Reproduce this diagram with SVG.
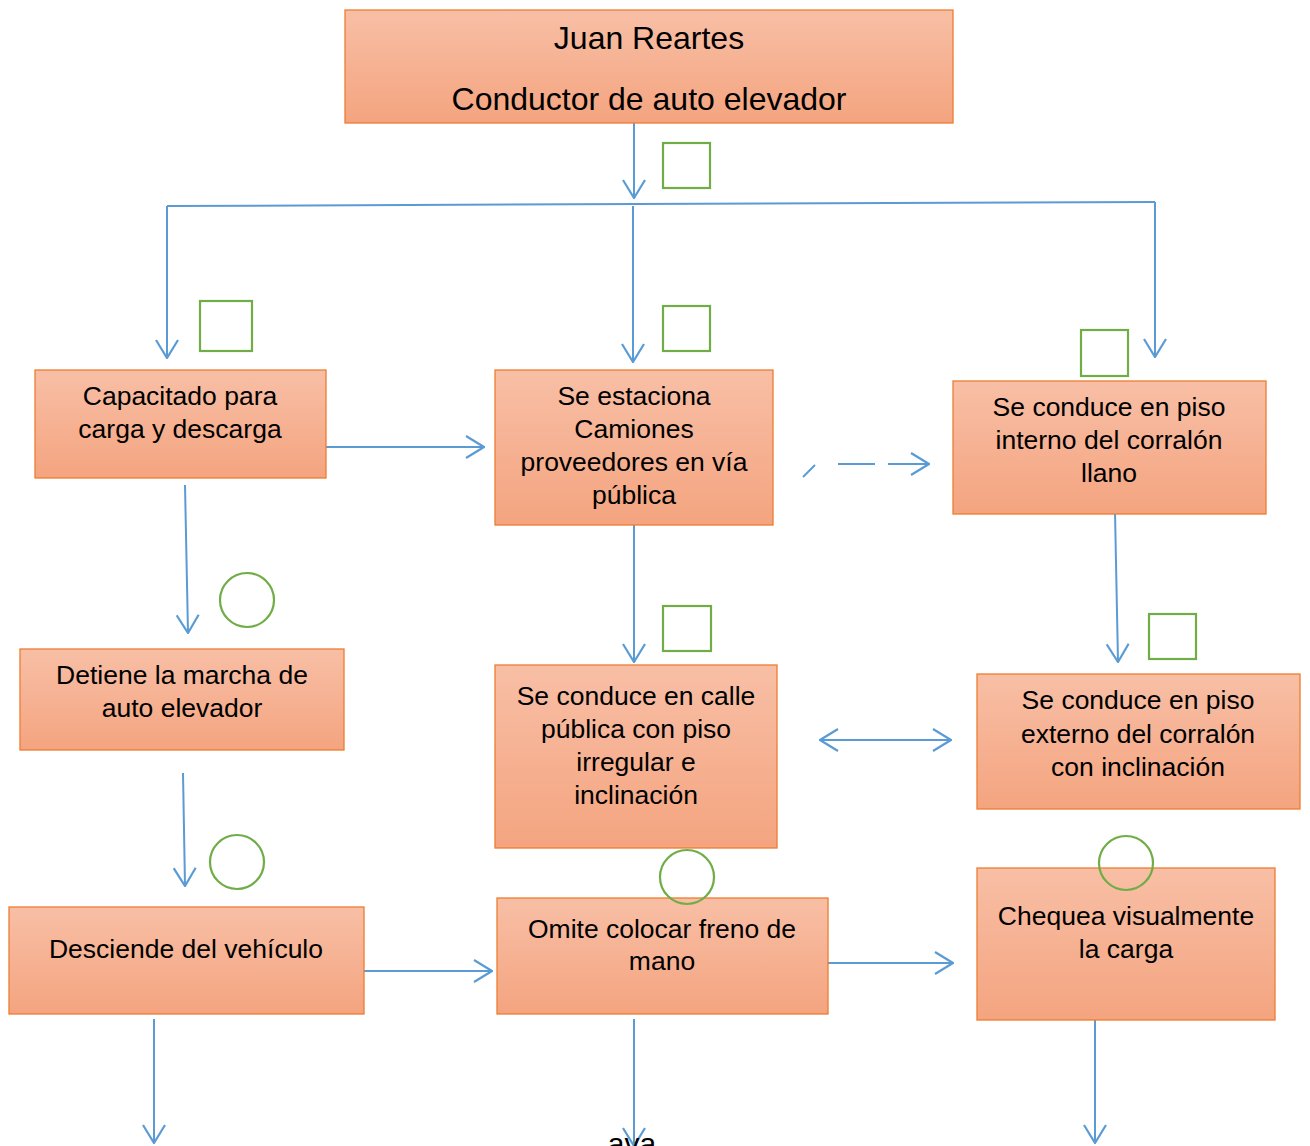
<svg xmlns="http://www.w3.org/2000/svg" width="1310" height="1146" viewBox="0 0 1310 1146">
<defs>
<linearGradient id="g" x1="0" y1="0" x2="0" y2="1">
<stop offset="0" stop-color="#f8bfa6"/>
<stop offset="1" stop-color="#f4a47f"/>
</linearGradient>
<marker id="ah" viewBox="0 0 20 24" refX="19" refY="12" markerWidth="20" markerHeight="24" markerUnits="userSpaceOnUse" orient="auto-start-reverse">
<path d="M1,1 L19,12 L1,23" fill="none" stroke="#5b9bd5" stroke-width="2.2"/>
</marker>
<style>
.box{fill:url(#g);stroke:#ed7d31;stroke-width:1.3}
.t{font-family:"Liberation Sans",Arial,sans-serif;font-size:26.5px;fill:#000;text-anchor:middle}
.t2{font-family:"Liberation Sans",Arial,sans-serif;font-size:32px;fill:#000;text-anchor:middle}
.sq{fill:none;stroke:#70ad47;stroke-width:2.2}
.c{fill:none;stroke:#5b9bd5;stroke-width:2}
.a{fill:none;stroke:#5b9bd5;stroke-width:2;marker-end:url(#ah)}
</style>
</defs>
<g id="connectors">
<path class="a" d="M634,123 L634,198"/>
<path class="c" d="M167,206 L1155,202"/>
<path class="a" d="M167,206 L167,358"/>
<path class="a" d="M633,206 L633,362"/>
<path class="a" d="M1155,202 L1155,357"/>
<path class="a" d="M326,447 L484,447"/>
<path class="c" d="M803,477 L815,465" stroke-width="1.5"/>
<path class="c" d="M838,464 L875,464" stroke-width="1.5"/>
<path class="a" d="M888,464 L929,464" stroke-width="2.5"/>
<path class="a" d="M185,485 L188,633"/>
<path class="a" d="M634,525 L634,662"/>
<path class="a" d="M1115,512 L1118,662"/>
<path class="a" d="M820,740 L951,740" style="marker-start:url(#ah)"/>
<path class="a" d="M183,773 L185,886"/>
<path class="a" d="M364,971 L492,971"/>
<path class="a" d="M828,963 L953,963"/>
<path class="a" d="M154,1019 L154,1143"/>
<path class="a" d="M634,1019 L634,1146"/>
<path class="a" d="M1095,1020 L1095,1143"/>
</g>
<g id="marks">
<rect class="sq" x="663" y="143" width="47" height="45"/>
<rect class="sq" x="200" y="301" width="52" height="50"/>
<rect class="sq" x="663" y="306" width="47" height="45"/>
<rect class="sq" x="1081" y="330" width="47" height="46"/>
<rect class="sq" x="663" y="606" width="48" height="45"/>
<rect class="sq" x="1149" y="614" width="47" height="45"/>
<circle class="sq" cx="247" cy="600" r="27"/>
<circle class="sq" cx="237" cy="862" r="27"/>
</g>
<g id="n1">
<rect class="box" x="345" y="10" width="608" height="113"/>
<text class="t2" x="649" y="49">Juan Reartes</text>
<text class="t2" x="649" y="110">Conductor de auto elevador</text>
</g>
<g id="n2">
<rect class="box" x="35" y="370" width="291" height="108"/>
<text class="t" x="180" y="405">Capacitado para</text>
<text class="t" x="180" y="438">carga y descarga</text>
</g>
<g id="n3">
<rect class="box" x="495" y="370" width="278" height="155"/>
<text class="t" x="634" y="405">Se estaciona</text>
<text class="t" x="634" y="438">Camiones</text>
<text class="t" x="634" y="471">proveedores en vía</text>
<text class="t" x="634" y="504">pública</text>
</g>
<g id="n4">
<rect class="box" x="953" y="381" width="313" height="133"/>
<text class="t" x="1109" y="416">Se conduce en piso</text>
<text class="t" x="1109" y="449">interno del corralón</text>
<text class="t" x="1109" y="482">llano</text>
</g>
<g id="n5">
<rect class="box" x="20" y="649" width="324" height="101"/>
<text class="t" x="182" y="684">Detiene la marcha de</text>
<text class="t" x="182" y="717">auto elevador</text>
</g>
<g id="n6">
<rect class="box" x="495" y="665" width="282" height="183"/>
<text class="t" x="636" y="705">Se conduce en calle</text>
<text class="t" x="636" y="738">pública con piso</text>
<text class="t" x="636" y="771">irregular e</text>
<text class="t" x="636" y="804">inclinación</text>
</g>
<g id="n7">
<rect class="box" x="977" y="674" width="323" height="135"/>
<text class="t" x="1138" y="709">Se conduce en piso</text>
<text class="t" x="1138" y="743">externo del corralón</text>
<text class="t" x="1138" y="776">con inclinación</text>
</g>
<g id="n8">
<rect class="box" x="9" y="907" width="355" height="107"/>
<text class="t" x="186" y="958">Desciende del vehículo</text>
</g>
<g id="n9">
<rect class="box" x="497" y="898" width="331" height="116"/>
<text class="t" x="662" y="938">Omite colocar freno de</text>
<text class="t" x="662" y="970">mano</text>
</g>
<circle class="sq" cx="687" cy="877" r="27"/>
<g id="n10">
<rect class="box" x="977" y="868" width="298" height="152"/>
<text class="t" x="1126" y="925">Chequea visualmente</text>
<text class="t" x="1126" y="958">la carga</text>
</g>
<circle class="sq" cx="1126" cy="863" r="27"/>
<text class="t" x="632" y="1154" style="font-size:30px">ava</text>
</svg>
